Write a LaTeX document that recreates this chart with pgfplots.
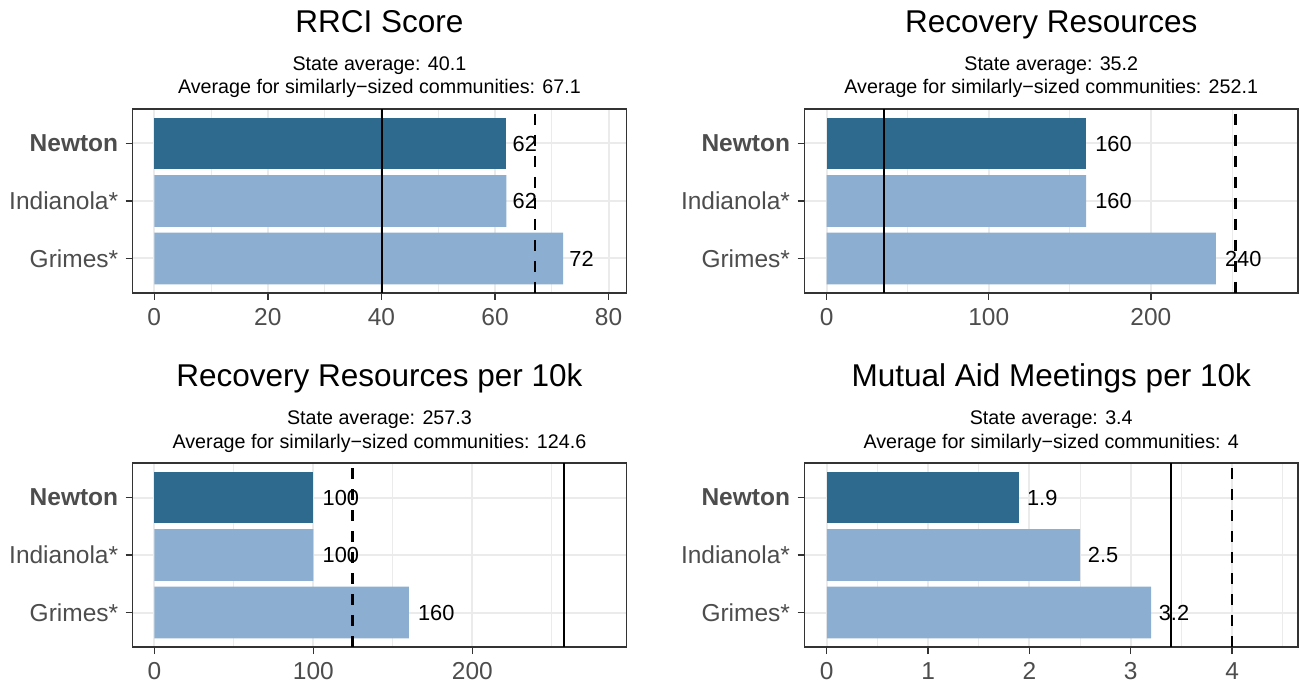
\documentclass[border=0pt]{standalone}
\usepackage{pgfplots}
\pgfplotsset{compat=1.18}
\usepackage{fontspec}
\setmainfont{Liberation Sans}

\definecolor{darkbar}{HTML}{2E6A8E}
\definecolor{lightbar}{HTML}{8CAED0}
\definecolor{gridgrey}{HTML}{EBEBEB}
\definecolor{framegrey}{HTML}{333333}
\definecolor{labelgrey}{HTML}{4D4D4D}

\pgfplotsset{
  panel/.style={
    scale only axis, width=493.5bp, height=184bp,
    ymin=0.4, ymax=3.6,
    ytick={1,2,3}, yticklabels={Grimes*,Indianola*,\textbf{Newton}},
    axis line style={framegrey, line width=1.3bp},
    tick style={framegrey, line width=1.3bp},
    tick align=outside, tick pos=left,
    major tick length=7bp, minor tick length=0pt,
    xmajorgrids, ymajorgrids, xminorgrids,
    major grid style={gridgrey, line width=2bp},
    minor grid style={gridgrey, line width=1bp},
    ticklabel style={font=\fontsize{24.5bp}{29bp}\selectfont, text=labelgrey},
    xticklabel style={yshift=-5bp},
    yticklabel style={xshift=-4bp},
    /pgf/number format/assume math mode=true,
  },
  bars/.style={
    xbar, bar width=0.9, bar shift=0pt, draw=none,
    point meta=x,
    nodes near coords={\makebox[1.25\width][r]{\pgfmathprintnumber{\pgfplotspointmeta}}},
    every node near coord/.style={anchor=west, inner sep=0pt,
      font=\fontsize{21.8bp}{26bp}\selectfont, text=black},
  },
  stateavg/.style={black, line width=2bp},
  simavg/.style={black, line width=2.2bp, dash pattern=on 11bp off 10bp, dash phase=-5bp},
}

\newcommand{\paneltitle}[4]{%
  \node[anchor=base, font=\fontsize{31.5bp}{36bp}\selectfont] at ([yshift=76bp]#1.north) {#2};
  \node[anchor=base, font=\fontsize{19.7bp}{24bp}\selectfont] at ([yshift=38bp]#1.north) {State average: #3};
  \node[anchor=base, font=\fontsize{19.7bp}{24bp}\selectfont] at ([yshift=15bp]#1.north) {Average for similarly−sized communities: #4};
}

\begin{document}
\begin{tikzpicture}
\path[use as bounding box] (0,0) rectangle (1299bp,681bp);

% RRCI score
\begin{axis}[panel, name=p1, at={(132.7bp,388bp)}, anchor=south west,
  xmin=-3.8, xmax=83.1, xtick={0,20,40,60,80}, minor xtick={10,30,50,70}]
  \addplot[bars, fill=darkbar] coordinates {(62,3)};
  \addplot[bars, fill=lightbar] coordinates {(62,2) (72,1)};
  \addplot[stateavg] coordinates {(40.1,0.4) (40.1,3.6)};
  \addplot[simavg] coordinates {(67.1,3.6) (67.1,0.4)};
\end{axis}
\paneltitle{p1}{RRCI Score}{40.1}{67.1}

% Recovery resources
\begin{axis}[panel, name=p2, at={(804.5bp,388bp)}, anchor=south west,
  xmin=-13.6, xmax=290.7, xtick={0,100,200}, minor xtick={50,150,250}]
  \addplot[bars, fill=darkbar] coordinates {(160,3)};
  \addplot[bars, fill=lightbar] coordinates {(160,2) (240,1)};
  \addplot[stateavg] coordinates {(35.2,0.4) (35.2,3.6)};
  \addplot[simavg] coordinates {(252.1,3.6) (252.1,0.4)};
\end{axis}
\paneltitle{p2}{Recovery Resources}{35.2}{252.1}

% Recovery resources per 10k
\begin{axis}[panel, name=p3, at={(132.7bp,34bp)}, anchor=south west,
  xmin=-13.6, xmax=296.7, xtick={0,100,200}, minor xtick={50,150,250}]
  \addplot[bars, fill=darkbar] coordinates {(100,3)};
  \addplot[bars, fill=lightbar] coordinates {(100,2) (160,1)};
  \addplot[stateavg] coordinates {(257.3,0.4) (257.3,3.6)};
  \addplot[simavg] coordinates {(124.6,3.6) (124.6,0.4)};
\end{axis}
\paneltitle{p3}{Recovery Resources per 10k}{257.3}{124.6}

% Mutual aid meetings per 10k
\begin{axis}[panel, name=p4, at={(804.5bp,34bp)}, anchor=south west,
  xmin=-0.22, xmax=4.65, xtick={0,1,2,3,4}, minor xtick={0.5,1.5,2.5,3.5,4.5}]
  \addplot[bars, fill=darkbar] coordinates {(1.9,3)};
  \addplot[bars, fill=lightbar] coordinates {(2.5,2) (3.2,1)};
  \addplot[stateavg] coordinates {(3.4,0.4) (3.4,3.6)};
  \addplot[simavg] coordinates {(4,3.6) (4,0.4)};
\end{axis}
\paneltitle{p4}{Mutual Aid Meetings per 10k}{3.4}{4}

\end{tikzpicture}
\end{document}
